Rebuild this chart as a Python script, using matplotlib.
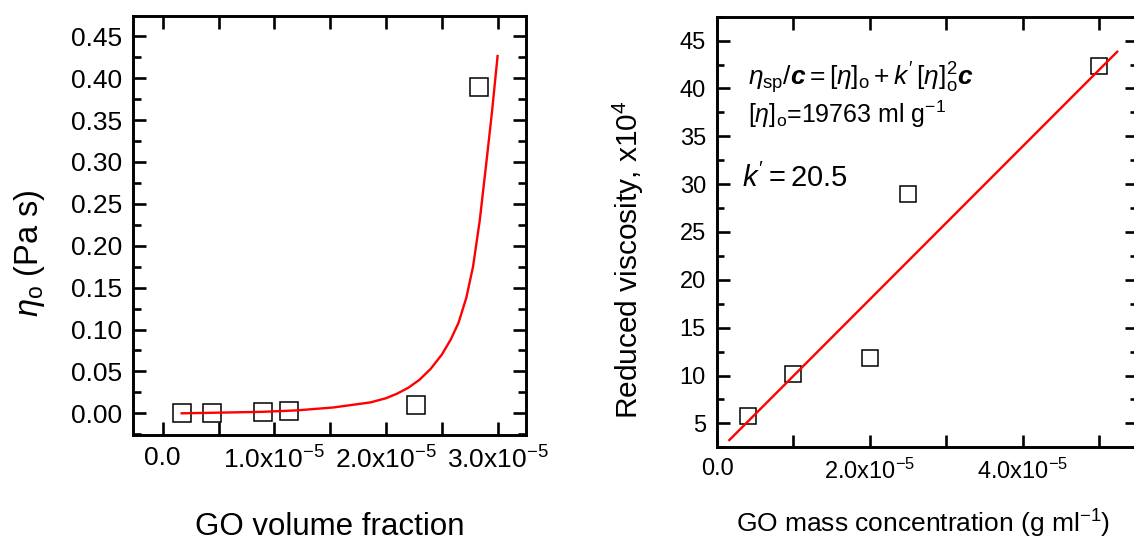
import matplotlib
matplotlib.use("Agg")
import matplotlib.pyplot as plt
from matplotlib.ticker import FixedLocator, FixedFormatter, MultipleLocator

plt.rcParams.update({
    "font.family": ["Liberation Sans", "DejaVu Sans"],
    "mathtext.fontset": "custom",
    "mathtext.rm": "Liberation Sans",
    "mathtext.it": "Liberation Sans:italic",
    "mathtext.bf": "Liberation Sans:bold",
    "mathtext.bfit": "Liberation Sans:italic:bold",
    "axes.linewidth": 2.1,
})

# ---------------- data: left panel ----------------
vol_fraction = [0.17e-5, 0.444e-5, 0.901e-5, 1.129e-5, 2.270e-5, 2.837e-5]
eta_zero = [0.0000, 0.0007, 0.0016, 0.0027, 0.0095, 0.390]

fit_vol_fraction = [0.17e-5, 0.50e-5, 0.90e-5, 1.20e-5, 1.53e-5, 1.86e-5, 2.00e-5,
                    2.10e-5, 2.20e-5, 2.30e-5, 2.40e-5, 2.50e-5, 2.58e-5, 2.65e-5,
                    2.72e-5, 2.78e-5, 2.84e-5, 2.90e-5, 2.95e-5, 3.00e-5]
fit_eta_zero = [0.0000, 0.0008, 0.0018, 0.0035, 0.0070, 0.0130, 0.0180,
                0.0235, 0.0305, 0.0400, 0.0530, 0.0700, 0.0880, 0.1080,
                0.1380, 0.1750, 0.2300, 0.3000, 0.3600, 0.4264]

left_xticks = [0.0, 1.0e-5, 2.0e-5, 3.0e-5]
left_xticklabels = ["0.0", r"1.0x10$^{-5}$", r"2.0x10$^{-5}$", r"3.0x10$^{-5}$"]
left_xminor = [0.5e-5, 1.5e-5, 2.5e-5]
left_yticks = [0.00, 0.05, 0.10, 0.15, 0.20, 0.25, 0.30, 0.35, 0.40, 0.45]
left_yticklabels = ["0.00", "0.05", "0.10", "0.15", "0.20", "0.25", "0.30",
                    "0.35", "0.40", "0.45"]

# ---------------- data: right panel ----------------
mass_conc = [0.4e-5, 1.0e-5, 2.0e-5, 2.5e-5, 5.0e-5]
reduced_visc = [5.8, 10.2, 11.8, 29.0, 42.3]

fit_mass_conc = [0.161e-5, 5.24e-5]
fit_reduced_visc = [3.25, 43.84]

right_xticks = [0.0, 2.0e-5, 4.0e-5]
right_xticklabels = ["0.0", r"2.0x10$^{-5}$", r"4.0x10$^{-5}$"]
right_xminor = [1.0e-5, 3.0e-5, 5.0e-5]
right_yticks = [5, 10, 15, 20, 25, 30, 35, 40, 45]
right_yticklabels = ["5", "10", "15", "20", "25", "30", "35", "40", "45"]

RED = "#ff0000"

fig = plt.figure(figsize=(11.34, 5.4), dpi=100)

# ================= left panel =================
ax1 = fig.add_axes([0.1176, 0.1944, 0.3459, 0.7759])
ax1.plot(vol_fraction, eta_zero, linestyle="none", marker="s", ms=13,
         mfc="none", mec="black", mew=1.1, zorder=2)
ax1.plot(fit_vol_fraction, fit_eta_zero, color=RED, lw=1.7, zorder=3)
ax1.set_xlim(-0.263e-5, 3.251e-5)
ax1.set_ylim(-0.0259, 0.4741)
ax1.xaxis.set_major_locator(FixedLocator(left_xticks))
ax1.xaxis.set_major_formatter(FixedFormatter(left_xticklabels))
ax1.xaxis.set_minor_locator(FixedLocator(left_xminor))
ax1.yaxis.set_major_locator(FixedLocator(left_yticks))
ax1.yaxis.set_major_formatter(FixedFormatter(left_yticklabels))
ax1.yaxis.set_minor_locator(MultipleLocator(0.025))
ax1.tick_params(which="both", direction="in", top=True, right=True, width=1.9)
ax1.tick_params(which="major", length=9.5, labelsize=19, pad=8)
ax1.tick_params(axis="x", which="minor", length=9.5)
ax1.tick_params(axis="y", which="minor", length=5.5)
ax1.set_xlabel("GO volume fraction", fontsize=22.5)
ax1.xaxis.label.set_va("baseline")
ax1.xaxis.set_label_coords(0.5, -0.239)
ax1.set_ylabel(r"$\eta_{\mathrm{o}}$ (Pa s)", fontsize=23.5)
ax1.yaxis.label.set_va("center")
ax1.yaxis.set_label_coords(-0.266, 0.434)

# ================= right panel =================
ax2 = fig.add_axes([0.6323, 0.1717, 0.3704, 0.7974])
ax2.plot(mass_conc, reduced_visc, linestyle="none", marker="s", ms=12,
         mfc="none", mec="black", mew=1.1, zorder=2)
ax2.plot(fit_mass_conc, fit_reduced_visc, color=RED, lw=1.7, zorder=3)
ax2.set_xlim(0.0, 5.5e-5)
ax2.set_ylim(2.5, 47.5)
ax2.xaxis.set_major_locator(FixedLocator(right_xticks))
ax2.xaxis.set_major_formatter(FixedFormatter(right_xticklabels))
ax2.xaxis.set_minor_locator(FixedLocator(right_xminor))
ax2.yaxis.set_major_locator(FixedLocator(right_yticks))
ax2.yaxis.set_major_formatter(FixedFormatter(right_yticklabels))
ax2.yaxis.set_minor_locator(MultipleLocator(2.5))
ax2.tick_params(which="both", direction="in", top=True, right=True, width=1.9)
ax2.tick_params(which="major", length=9, labelsize=17, pad=8)
ax2.tick_params(axis="x", which="minor", length=9)
ax2.tick_params(axis="y", which="minor", length=5)
ax2.set_xlabel(r"GO mass concentration (g ml$^{-1}$)", fontsize=19)
ax2.xaxis.label.set_va("baseline")
ax2.xaxis.set_label_coords(0.4914, -0.1978)
ax2.set_ylabel(r"Reduced viscosity, x10$^{4}$", fontsize=21.5)
ax2.yaxis.label.set_va("center")
ax2.yaxis.set_label_coords(-0.211, 0.435)

ax2.text(0.0745, 0.8414,
         r"$\eta_{\mathrm{sp}}/\mathbfit{c} = [\eta]_{\mathrm{o}} + k'\,[\eta]_{\mathrm{o}}^{2}\mathbfit{c}$",
         transform=ax2.transAxes, fontsize=19, va="baseline", ha="left")
ax2.text(0.0745, 0.7524, r"$[\eta]_{\mathrm{o}}$=19763 ml g$^{-1}$",
         transform=ax2.transAxes, fontsize=18, va="baseline", ha="left")
ax2.text(0.0588, 0.6052, r"$k' = \mathrm{20.5}$",
         transform=ax2.transAxes, fontsize=21, va="baseline", ha="left")

fig.savefig("out.png", dpi=100)
